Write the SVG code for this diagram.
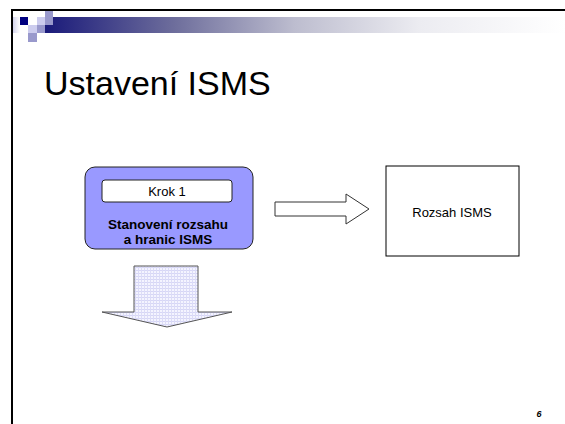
<svg xmlns="http://www.w3.org/2000/svg" width="565" height="424" viewBox="0 0 565 424">
  <defs>
    <linearGradient id="bar" x1="0" y1="0" x2="1" y2="0">
      <stop offset="0" stop-color="#1a1a7a"/>
      <stop offset="0.25" stop-color="#6e6e9c"/>
      <stop offset="0.48" stop-color="#bdbdcf"/>
      <stop offset="0.72" stop-color="#ececf1"/>
      <stop offset="1" stop-color="#ffffff"/>
    </linearGradient>
    <linearGradient id="side" x1="0" y1="0" x2="1" y2="0">
      <stop offset="0" stop-color="#d4d4ec"/>
      <stop offset="1" stop-color="#ffffff"/>
    </linearGradient>
    <pattern id="grid" width="3" height="3" patternUnits="userSpaceOnUse">
      <rect width="3" height="3" fill="#f4f4ff"/>
      <rect width="3" height="1" fill="#d6d6f6"/>
      <rect width="1" height="3" fill="#dcdcf7"/>
    </pattern>
    <style>
      .t { font-family: "Liberation Sans", Arial, sans-serif; fill: #000; }
      .sq1 { fill: #ccccee; }
      .sq2 { fill: #9999cc; }
    </style>
  </defs>

  <rect width="565" height="424" fill="#ffffff"/>

  <g id="header">
    <rect x="45" y="17" width="520" height="16" fill="url(#bar)"/>
    <rect x="13" y="17" width="7" height="16" fill="url(#side)"/>
    <rect x="20" y="17" width="8" height="8" fill="#000080"/>
    <rect class="sq1" x="37" y="17" width="8" height="8"/>
    <rect class="sq2" x="45" y="11" width="8" height="6"/>
    <rect class="sq2" x="45" y="17" width="8" height="8"/>
    <rect class="sq1" x="28" y="25" width="9" height="8"/>
    <rect class="sq2" x="37" y="25" width="8" height="8"/>
    <rect class="sq2" x="28" y="33" width="9" height="9"/>
    <line x1="12" y1="10" x2="565" y2="10" stroke="#000" stroke-width="2"/>
    <line x1="12" y1="9" x2="12" y2="424" stroke="#000" stroke-width="2"/>
  </g>

  <text id="title" class="t" x="44" y="95" font-size="34">Ustavení ISMS</text>

  <g id="node-krok1">
    <rect x="85" y="167" width="168" height="82" rx="10" fill="#9999ff" stroke="#222" stroke-width="1"/>
    <rect x="102" y="180" width="130" height="22" rx="3" fill="#ffffff" stroke="#222" stroke-width="1"/>
    <text class="t" x="167" y="196" font-size="13" text-anchor="middle">Krok 1</text>
    <text class="t" x="168" y="229" font-size="13.5" font-weight="bold" text-anchor="middle">Stanovení rozsahu</text>
    <text class="t" x="168" y="244" font-size="13.5" font-weight="bold" text-anchor="middle">a hranic ISMS</text>
  </g>

  <g id="node-rozsah">
    <rect x="386" y="166" width="133" height="90" fill="#ffffff" stroke="#000" stroke-width="1"/>
    <text class="t" x="452" y="217" font-size="13" text-anchor="middle">Rozsah ISMS</text>
  </g>

  <g id="connectors">
    <polygon points="275,202 346,202 346,194 369,209 346,224 346,216 275,216" fill="#ffffff" stroke="#333" stroke-width="1"/>
    <polygon points="134,266 198,266 198,312 232,312 167,327 102,312 134,312" fill="url(#grid)" stroke="#555" stroke-width="1"/>
  </g>

  <text id="page" class="t" x="539" y="417" font-size="9" font-weight="bold" font-style="italic" text-anchor="middle">6</text>
</svg>
